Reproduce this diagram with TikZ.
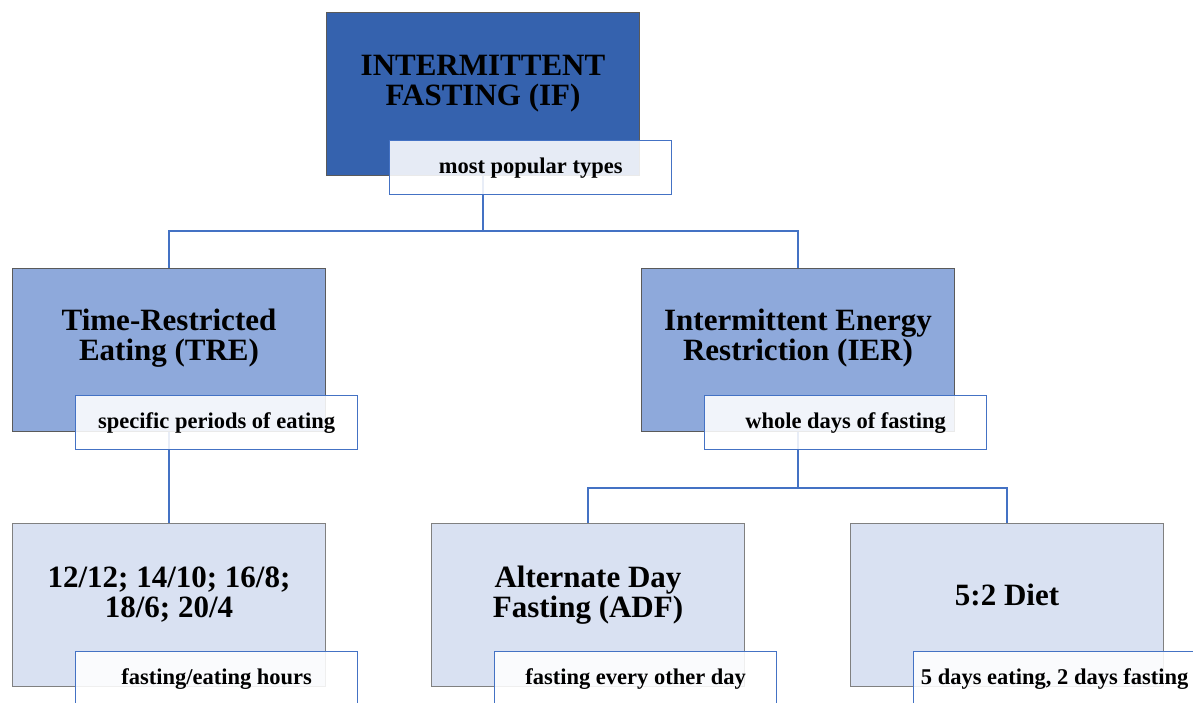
\documentclass[tikz,border=0pt]{standalone}
\usepackage{fontspec}
\setmainfont{Liberation Serif}
\usetikzlibrary{calc}
\definecolor{topblue}{HTML}{3562AE}
\definecolor{midblue}{HTML}{8EA9DB}
\definecolor{lowblue}{HTML}{D9E1F2}
\definecolor{linkblue}{HTML}{4472C4}
\definecolor{edgegray}{HTML}{5A5A5A}
\definecolor{lowgray}{HTML}{808080}
\begin{document}
\begin{tikzpicture}[x=1pt,y=-1pt,
  box/.style={line width=1pt,minimum width=313pt,minimum height=163pt,inner sep=0pt,anchor=north west},
  lab/.style={draw=linkblue,line width=1.3pt,fill=white,fill opacity=0.88,text opacity=1,minimum width=282pt,minimum height=54pt,inner sep=0pt,anchor=north west,font=\bfseries\fontsize{22.5}{22.5}\selectfont},
  big/.style={font=\bfseries\fontsize{31}{30}\selectfont,align=center,inner sep=0pt},
  link/.style={draw=linkblue,line width=2.6pt}]
\useasboundingbox (0,0) rectangle (1193,702);
\clip (0,0) rectangle (1193,702);
% boxes
\node[box,draw=edgegray,fill=topblue] (top) at (326,12) {};
\node[box,draw=edgegray,fill=midblue] (tre) at (12,268) {};
\node[box,draw=edgegray,fill=midblue] (ier) at (641,268) {};
\node[box,draw=lowgray,fill=lowblue] (hrs) at (12,523) {};
\node[box,draw=lowgray,fill=lowblue] (adf) at (431,523) {};
\node[box,draw=lowgray,fill=lowblue] (diet) at (850,523) {};
% connectors
\coordinate (j1) at ($(top.south)+(0,55)$);
\coordinate (j2) at ($(ier.south)+(0,56)$);
\draw[link] (top.south) -- (j1) -| (tre.north);
\draw[link] (j1) -| (ier.north);
\draw[link] (tre.south) -- (hrs.north);
\draw[link] (ier.south) -- (j2) -| (adf.north);
\draw[link] (j2) -| (diet.north);
% main texts
\node[big] (topt) at ($(top.center)+(0,-10)$) {INTERMITTENT\\FASTING (IF)};
\node[big] (tret) at ($(tre.center)+(0,-12)$) {Time-Restricted\\Eating (TRE)};
\node[big] (iert) at ($(ier.center)+(0,-12)$) {Intermittent Energy\\Restriction (IER)};
\node[big] (hrst) at ($(hrs.center)+(0,-10)$) {12/12; 14/10; 16/8;\\18/6; 20/4};
\node[big] (adft) at ($(adf.center)+(0,-10)$) {Alternate Day\\Fasting (ADF)};
\node[big] (diett) at ($(diet.center)+(0,-10)$) {5:2 Diet};
% labels
\node[lab] (topl) at (389,140) {most popular types};
\node[lab] (trel) at (75,395) {specific periods of eating};
\node[lab] (ierl) at (704,395) {whole days of fasting};
\node[lab] (hrsl) at (75,651) {fasting/eating hours};
\node[lab] (adfl) at (494,651) {fasting every other day};
\node[lab] (dietl) at (913,651) {5 days eating, 2 days fasting};
\end{tikzpicture}
\end{document}
